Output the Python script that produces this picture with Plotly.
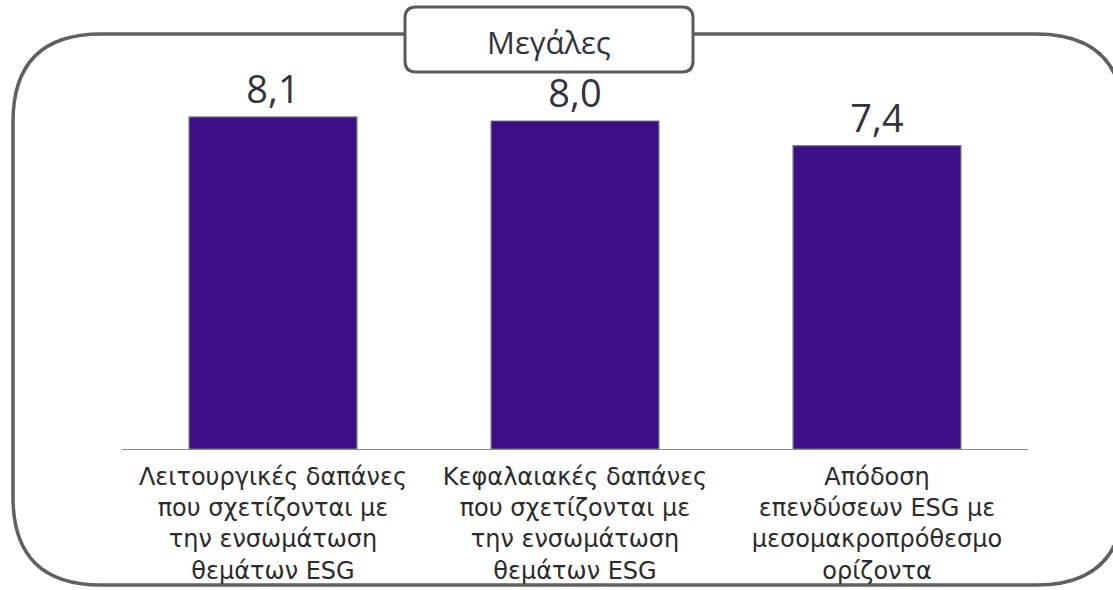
import plotly.graph_objects as go

categories = [
    "Λειτουργικές δαπάνες<br>που σχετίζονται με<br>την ενσωμάτωση<br>θεμάτων ESG",
    "Κεφαλαιακές δαπάνες<br>που σχετίζονται με<br>την ενσωμάτωση<br>θεμάτων ESG",
    "Απόδοση<br>επενδύσεων ESG με<br>μεσομακροπρόθεσμο<br>ορίζοντα",
]
values = [8.1, 8.0, 7.4]
value_labels = ["8,1", "8,0", "7,4"]
title_text = "Μεγάλες"

W, H = 1113, 590
L, R, T, B = 122, 85, 39, 141
pw, ph = W - L - R, H - T - B


def px(x):
    return (x - L) / pw


def py(y):
    return (H - B - y) / ph


fig = go.Figure()
fig.add_trace(go.Bar(
    x=categories,
    y=values,
    text=value_labels,
    textposition="outside",
    cliponaxis=False,
    textfont=dict(family="Open Sans", size=38, color="#333340"),
    marker=dict(color="#3d0f87", line=dict(color="#7a7a8a", width=1.2)),
    width=0.556,
    hoverinfo="skip",
))


def rounded(x0, y0, x1, y1, r, rr=None):
    rr = r if rr is None else rr

    def P(x, y):
        return f"{px(x):.5f},{py(y):.5f}"
    return (f"M {P(x0 + r, y0)} L {P(x1 - r, y0)} "
            f"Q {P(x1, y0)} {P(x1, y0 + r)} "
            f"L {P(x1, y1 - rr)} Q {P(x1, y1)} {P(x1 - rr, y1)} "
            f"L {P(x0 + rr, y1)} Q {P(x0, y1)} {P(x0, y1 - rr)} "
            f"L {P(x0, y0 + r)} Q {P(x0, y0)} {P(x0 + r, y0)} Z")


# outer rounded frame
fig.add_shape(type="path", xref="paper", yref="paper",
              path=rounded(13, 34, 1124, 585, 88, 88),
              line=dict(color="#606060", width=3.5), fillcolor="rgba(0,0,0,0)",
              layer="below")

# title box
fig.add_shape(type="path", xref="paper", yref="paper",
              path=rounded(405, 7, 693, 72, 11),
              line=dict(color="#5a5a5a", width=3), fillcolor="white",
              layer="above")
fig.add_annotation(x=px(549), y=py(42), xref="paper", yref="paper",
                   xanchor="center", yanchor="middle",
                   text=title_text, showarrow=False,
                   font=dict(family="Open Sans", size=31, color="#333340"))

fig.update_layout(
    width=W, height=H,
    margin=dict(l=L, r=R, t=T, b=B, autoexpand=False),
    plot_bgcolor="white", paper_bgcolor="white",
    showlegend=False,
    xaxis=dict(showline=True, linecolor="#8a8a8a", linewidth=1.2,
               tickfont=dict(family="DejaVu Sans", size=24, color="#2b2b2b"),
               ticks="", showgrid=False, ticklabelstandoff=6),
    yaxis=dict(range=[0, 10], visible=False, showgrid=False),
)

fig.write_html("out.html",
               config={"displayModeBar": False},
               post_script="document.body.style.margin='0';document.body.style.overflow='hidden';")
